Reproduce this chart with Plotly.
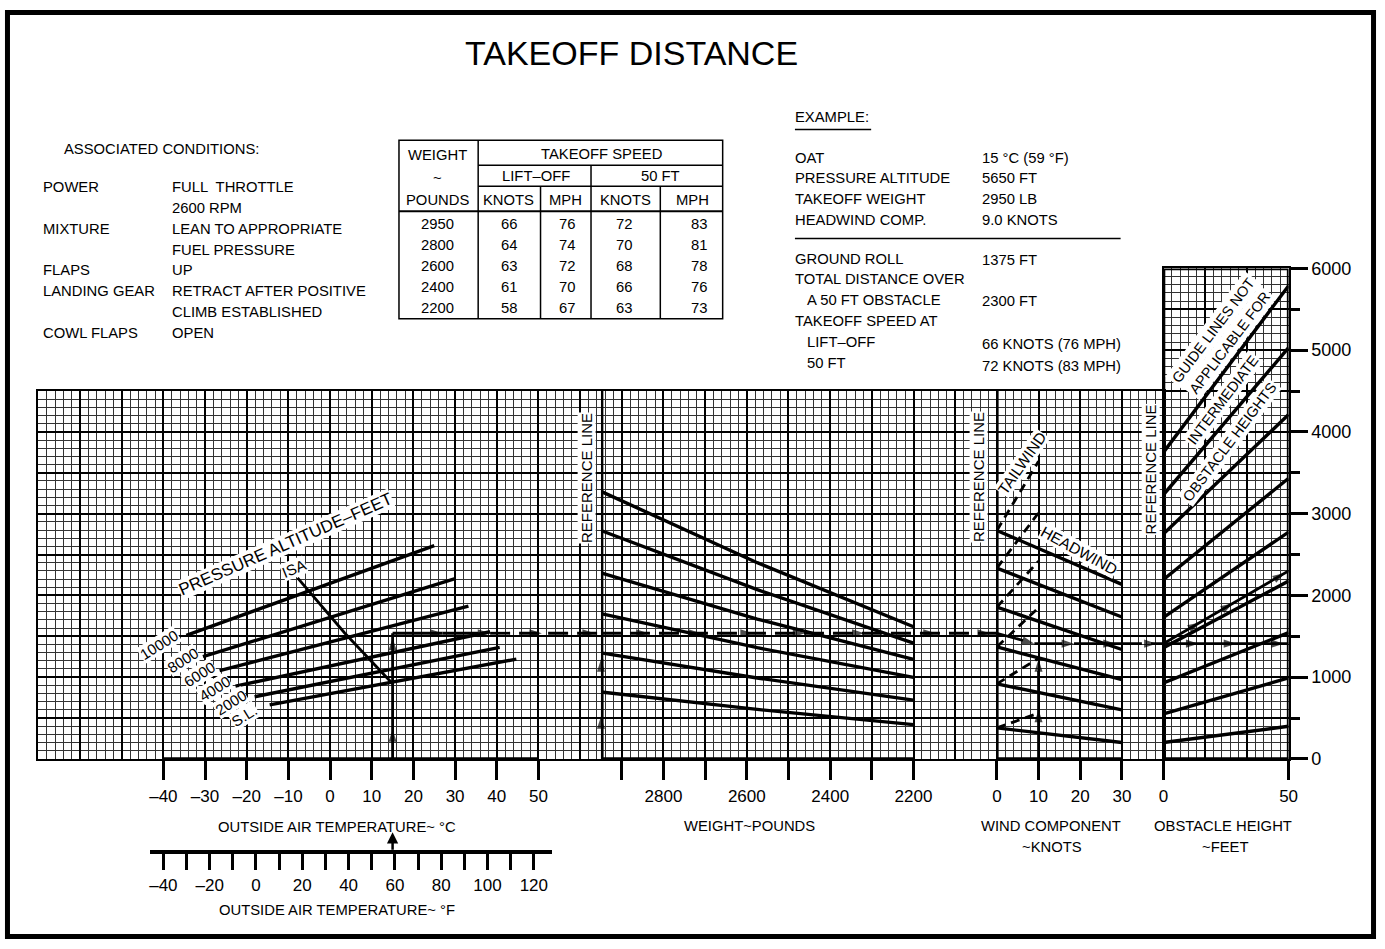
import plotly.graph_objects as go

FONT = "Liberation Sans, Arial, Helvetica, sans-serif"
W, H = 1385, 949

# ---------------- data ----------------
TEMP_C_TICKS = [-40, -30, -20, -10, 0, 10, 20, 30, 40, 50]
TEMP_C_LABELS = ["–40", "–30", "–20", "–10", "0", "10", "20", "30", "40", "50"]
TEMP_F_TICKS = [-40, -30, -20, -10, 0, 10, 20, 30, 40, 50, 60, 70, 80, 90, 100, 110, 120]
TEMP_F_LABELS = ["–40", "", "–20", "", "0", "", "20", "", "40", "", "60", "", "80", "", "100", "", "120"]
WEIGHT_TICKS = [2900, 2800, 2700, 2600, 2500, 2400, 2300, 2200]
WEIGHT_LABELS = ["", "2800", "", "2600", "", "2400", "", "2200"]
WIND_TICKS = [0, 10, 20, 30]
OBST_TICKS = [0, 50]

# pressure altitude lines (temperature degC, distance ft)
ALT_NAMES = ["10000", "8000", "6000", "4000", "2000", "S.L."]
ALT_T_START = [-34.5, -30.5, -26.5, -22.7, -18.1, -14.5]
ALT_D_START = [1510, 1250, 1080, 890, 760, 660]
ALT_T_END = [25.0, 30.0, 33.2, 38.4, 40.7, 44.7]
ALT_D_END = [2610, 2205, 1870, 1555, 1365, 1220]

ISA_T = [-7.8, 3.5, 15.0]
ISA_D = [2215, 1540, 920]

# weight guide lines (lb, ft)
WT_REF = 2950
WT_MID = 2575
WT_MIN = 2200
WT_D_START = [3273, 2794, 2275, 1776, 1297, 818]
WT_D_MID = [2400, 2070, 1710, 1360, 990, 605]
WT_D_END = [1617, 1417, 1218, 998, 719, 419]

# wind guide lines (knots, ft)
WIND_MAX = 30
TAIL_KT = 10
HW_D_START = [2794, 2334, 1856, 1369, 918, 379]
HW_D_END = [2135, 1736, 1338, 970, 599, 200]
TW_D_END = [3640, 3010, 2420, 1850, 1230, 560]

# obstacle guide lines (ft obstacle, ft distance)
OBST_MAX = 50
OB_D_START = [200, 550, 930, 1360, 1730, 2195, 2754, 3234, 3752]
OB_D_END = [399, 990, 1545, 2175, 2775, 3433, 4212, 5030, 5788]

GRID_TOP_FT = 4500
OBST_TOP_FT = 6000

# example path (value, distance, arrow flag)
EX1_T = [15, 15, 15, 15, 27, 38.4]
EX1_D = [0, 360, 1480, 1537, 1537, 1537]
EX1_A = [0, 1, 1, 0, 1, 1]
EX2_T = [38.4, 50.8, 63.5, 65]
EX2_D = [1537, 1537, 1537, 1537]
EX2_A = [0, 1, 1, 0]
EX3_W = [2950, 2836, 2710, 2586, 2460, 2318, 2147, 2017, 2000]
EX3_D = [1537, 1537, 1537, 1537, 1537, 1537, 1537, 1537, 1537]
EX3_A = [0, 1, 1, 1, 1, 1, 1, 1, 0]
EX4_KT = [0, 9, 18.5, 28.5, 30]
EX4_D = [1537, 1410, 1410, 1410, 1410]
EX4_A = [0, 1, 1, 1, 0]
EX5_KT = [30, 38.3, 40]
EX5_D = [1410, 1410, 1410]
EX5_A = [0, 1, 0]
EX6_H = [0, 13.9, 29, 48, 50]
EX6_D = [1410, 1410, 1410, 1410, 1410]
EX6_A = [0, 1, 1, 1, 0]
EX7_H = [0, 14.5, 27.7, 48.5, 50]
EX7_D = [1410, 1668, 1903, 2273, 2300]
EX7_A = [0, 1, 1, 1, 0]
TWV_KT = [10, 10, 10]
TWV_D = [0, 600, 1218]
TWV_A = [0, 1, 1]
WREF_D = [0, 519, 1218]
WREF_A = [0, 1, 1]
EX_OAT_F = 59

# table
TBL_WEIGHT = [2950, 2800, 2600, 2400, 2200]
TBL_LO_KT = [66, 64, 63, 61, 58]
TBL_LO_MPH = [76, 74, 72, 70, 67]
TBL_50_KT = [72, 70, 68, 66, 63]
TBL_50_MPH = [83, 81, 78, 76, 73]

# ---------------- layout geometry (pixels) ----------------
X0 = 33.7          # grid left edge
G = 42.1           # major grid cell (px)
Y0 = 765.0         # distance 0 ft
PX_PER_FT = 501.0 / 6000.0
TXT_DY = 0.5       # visual baseline correction for annotations


def px(x):
    return x / W


def py(y):
    return 1 - y / H


def xdom(c0, c1):
    return [px(X0 + c0 * G), px(X0 + c1 * G)]


def ydom(ft_top):
    return [py(Y0), py(Y0 - ft_top * PX_PER_FT)]


fig = go.Figure()

# background grid subplots first
fig.add_trace(go.Scatter(x=[0], y=[0], xaxis="x", yaxis="y", mode="markers",
                         marker=dict(size=0, opacity=0), hoverinfo="skip"))
fig.add_trace(go.Scatter(x=[0], y=[0], xaxis="x2", yaxis="y2", mode="markers",
                         marker=dict(size=0, opacity=0), hoverinfo="skip"))

LW = 3.4


def line(xs, ys, xa, width=LW, dash="solid"):
    fig.add_trace(go.Scatter(x=xs, y=ys, xaxis=xa, yaxis="y3", mode="lines",
                             line=dict(color="black", width=width, dash=dash),
                             hoverinfo="skip", showlegend=False))


def path(xs, ys, arrows, xa, dash="solid", width=2.8):
    fig.add_trace(go.Scatter(
        x=xs, y=ys, xaxis=xa, yaxis="y3", mode="lines+markers",
        line=dict(color="black", width=width, dash=dash),
        marker=dict(symbol="arrow", size=[13 if a else 0 for a in arrows],
                    angleref="previous", color="black", line=dict(width=0)),
        cliponaxis=False, hoverinfo="skip", showlegend=False))


# panel frames / reference lines
line([min(TEMP_C_TICKS), max(TEMP_C_TICKS)], [0, 0], "x3", width=3.5)
line([WT_REF, WT_REF], [0, GRID_TOP_FT], "x4", width=4.8)
line([WT_REF, WT_MIN], [0, 0], "x4", width=3.5)
line([0, 0], [0, GRID_TOP_FT], "x5", width=3.5)
line([0, WIND_MAX], [0, 0], "x5", width=3.5)
line([0, 0, OBST_MAX, OBST_MAX], [GRID_TOP_FT, OBST_TOP_FT, OBST_TOP_FT, 0], "x6", width=3.5)
line([0, 0], [0, GRID_TOP_FT], "x6", width=3.5)
line([0, OBST_MAX], [0, 0], "x6", width=3.5)

# pressure altitude lines
for i in range(len(ALT_NAMES)):
    line([ALT_T_START[i], ALT_T_END[i]], [ALT_D_START[i], ALT_D_END[i]], "x3")
line(ISA_T, ISA_D, "x3", width=2.8)

# weight lines
for i in range(len(WT_D_START)):
    line([WT_REF, WT_MID, WT_MIN], [WT_D_START[i], WT_D_MID[i], WT_D_END[i]], "x4")

# wind lines
for i in range(len(HW_D_START)):
    line([0, WIND_MAX], [HW_D_START[i], HW_D_END[i]], "x5")
    line([0, TAIL_KT], [HW_D_START[i], TW_D_END[i]], "x5", width=2.8, dash="9px,6px")

# obstacle lines
for i in range(len(OB_D_START)):
    line([0, OBST_MAX], [OB_D_START[i], OB_D_END[i]], "x6")

# example path
path(EX1_T, EX1_D, EX1_A, "x3")
path(EX2_T, EX2_D, EX2_A, "x3", dash="20px,9px")
path(EX3_W, EX3_D, EX3_A, "x4", dash="20px,9px")
path(EX4_KT, EX4_D, EX4_A, "x5")
path(EX5_KT, EX5_D, EX5_A, "x5", dash="20px,9px")
path(EX6_H, EX6_D, EX6_A, "x6")
path(EX7_H, EX7_D, EX7_A, "x6")
path(TWV_KT, TWV_D, TWV_A, "x5")
path([WT_REF] * 3, WREF_D, WREF_A, "x4", width=4.8)

# invisible trace on the Fahrenheit axis
fig.add_trace(go.Scatter(x=[EX_OAT_F], y=[0], xaxis="x7", yaxis="y3", mode="markers",
                         marker=dict(size=0, opacity=0), hoverinfo="skip"))


def grid_axis(domain, rng, dtick, mdtick, anchor):
    return dict(domain=domain, range=rng, anchor=anchor, tickmode="linear", tick0=0, dtick=dtick,
                showgrid=True, gridcolor="#000", gridwidth=1.9,
                minor=dict(tick0=0, dtick=mdtick, showgrid=True, gridcolor="#333", gridwidth=1.1),
                showticklabels=False, ticks="", zeroline=False, showline=True,
                linecolor="black", linewidth=1.8, mirror=True, fixedrange=True)


TICKFONT = dict(family=FONT, size=17, color="black")


def panel_x(domain, rng, tickvals, ticktext):
    return dict(domain=domain, range=rng, anchor="y3", tickmode="array", tickvals=tickvals,
                ticktext=ticktext, ticks="outside", ticklen=20, tickwidth=3, tickcolor="black",
                ticklabelstandoff=2,
                showgrid=False, zeroline=False, showline=False, tickfont=TICKFONT,
                fixedrange=True)


# Fahrenheit axis range from pixel extent
F_PX0, F_PX1 = 146.7, 552.7
C_PX_M40 = X0 + 3 * G


def f_at(pxv):
    return ((pxv - C_PX_M40) / (G / 10) - 40) * 1.8 + 32


fig.update_layout(
    width=W, height=H, margin=dict(l=0, r=0, t=0, b=0),
    paper_bgcolor="white", plot_bgcolor="rgba(0,0,0,0)", showlegend=False,
    font=dict(family=FONT, color="black"),
    xaxis=grid_axis(xdom(0, 27), [0, 27], 1, 0.2, "y"),
    yaxis=grid_axis(ydom(GRID_TOP_FT), [0, GRID_TOP_FT], 500, 100, "x"),
    xaxis2=grid_axis(xdom(27, 30), [0, 3], 1, 0.2, "y2"),
    yaxis2=grid_axis(ydom(OBST_TOP_FT), [0, OBST_TOP_FT], 500, 100, "x2"),
    xaxis3=panel_x(xdom(0, 13.5), [-70, 65], TEMP_C_TICKS, TEMP_C_LABELS),
    xaxis4=panel_x(xdom(13.5, 23), [2950, 2000], WEIGHT_TICKS, WEIGHT_LABELS),
    xaxis5=panel_x(xdom(23, 27), [0, 40], WIND_TICKS, [str(v) for v in WIND_TICKS]),
    xaxis6=panel_x(xdom(27, 30), [0, 50], OBST_TICKS, [str(v) for v in OBST_TICKS]),
    xaxis7=dict(domain=[px(F_PX0), px(F_PX1)], range=[f_at(F_PX0), f_at(F_PX1)],
                anchor="free", position=py(860), tickmode="array", tickvals=TEMP_F_TICKS,
                ticktext=TEMP_F_LABELS, ticks="outside", ticklen=16, tickwidth=3,
                ticklabelstandoff=1,
                tickcolor="black", showline=True, linewidth=3.5, linecolor="black",
                showgrid=False, zeroline=False, tickfont=TICKFONT, fixedrange=True),
    yaxis3=dict(domain=ydom(OBST_TOP_FT), range=[0, OBST_TOP_FT], anchor="x6", side="right",
                tickmode="linear", tick0=0, dtick=1000, ticks="outside", ticklen=18,
                tickwidth=3, tickcolor="black",
                minor=dict(tick0=0, dtick=500, ticks="outside", ticklen=10, tickwidth=3,
                           tickcolor="black", showgrid=False),
                showgrid=False, zeroline=False, showline=False,
                tickfont=dict(family=FONT, size=18, color="black"), fixedrange=True),
)

ann = []


def T(text, x, y, size=14.8, xanchor="center", angle=0, bg=False, dy=TXT_DY, pad=0):
    d = dict(text=text, x=px(x), y=py(y - dy), xref="paper", yref="paper", showarrow=False,
             font=dict(family=FONT, size=size, color="black"), xanchor=xanchor,
             yanchor="middle", textangle=angle)
    if bg:
        d["bgcolor"] = "white"
        d["borderpad"] = pad
    ann.append(d)


T("TAKEOFF DISTANCE", 633, 47, size=34, dy=3)

# associated conditions
T("ASSOCIATED CONDITIONS:", 58, 142, xanchor="left")
for txt, y in [("POWER", 181.5), ("MIXTURE", 224.5), ("FLAPS", 266.5), ("LANDING GEAR", 288),
               ("COWL FLAPS", 330)]:
    T(txt, 36, y, xanchor="left")
for txt, y in [("FULL  THROTTLE", 181.5), ("2600 RPM", 203), ("LEAN TO APPROPRIATE", 224.5),
               ("FUEL PRESSURE", 245.5), ("UP", 266.5), ("RETRACT AFTER POSITIVE", 288),
               ("CLIMB ESTABLISHED", 309.5), ("OPEN", 330)]:
    T(txt, 167, y, xanchor="left")

# table text
TS = 14.8
T("WEIGHT", 437, 149, size=TS)
T("~", 437, 172, size=TS)
T("POUNDS", 437, 195, size=TS)
T("TAKEOFF SPEED", 603, 148, size=TS)
T("LIFT–OFF", 536, 170, size=TS)
T("50 FT", 662, 170, size=TS)
T("KNOTS", 509, 195, size=TS)
T("MPH", 566, 195, size=TS)
T("KNOTS", 627, 195, size=TS)
T("MPH", 695, 195, size=TS)
ROW_Y = [219, 240.5, 262, 283.5, 305]
for i in range(len(TBL_WEIGHT)):
    T(str(TBL_WEIGHT[i]), 437, ROW_Y[i], size=TS)
    T(str(TBL_LO_KT[i]), 509, ROW_Y[i], size=TS)
    T(str(TBL_LO_MPH[i]), 568, ROW_Y[i], size=TS)
    T(str(TBL_50_KT[i]), 625, ROW_Y[i], size=TS)
    T(str(TBL_50_MPH[i]), 701, ROW_Y[i], size=TS)

# example block
T("EXAMPLE:", 796, 110, xanchor="left")
for txt, x, y in [("OAT", 796, 151.5), ("PRESSURE ALTITUDE", 796, 172.5), ("TAKEOFF WEIGHT", 796, 194),
                  ("HEADWIND COMP.", 796, 215.5), ("GROUND ROLL", 796, 255),
                  ("TOTAL DISTANCE OVER", 796, 275.5), ("A 50 FT OBSTACLE", 808, 297),
                  ("TAKEOFF SPEED AT", 796, 318), ("LIFT–OFF", 808, 339.5), ("50 FT", 808, 361)]:
    T(txt, x, y, xanchor="left")
for txt, y in [("15 °C (59 °F)", 152), ("5650 FT", 172.5), ("2950 LB", 194), ("9.0 KNOTS", 215.5),
               ("1375 FT", 256), ("2300 FT", 298), ("66 KNOTS (76 MPH)", 342),
               ("72 KNOTS (83 MPH)", 364)]:
    T(txt, 985, y, xanchor="left")

# chart labels (rotated, centred)
T("REFERENCE LINE", 588, 478, size=15, angle=-90, bg=True, dy=0)
T("REFERENCE LINE", 984, 477, size=15, angle=-90, bg=True, dy=0)
T("REFERENCE LINE", 1157, 469, size=15, angle=-90, bg=True, dy=0)
T("PRESSURE ALTITUDE–FEET", 283, 546, size=17, angle=-23.7, bg=True, dy=0)
T("ISA", 292, 571, size=15, angle=-22, bg=True, dy=0)
for name, (x, y) in zip(ALT_NAMES, [(156, 648), (179, 664), (196, 679), (212, 693), (228, 707),
                                    (242, 721)]):
    T(name, x, y, size=15, angle=-32, bg=True, dy=0)
T("TAILWIND", 1027, 463, size=15.5, angle=-55, bg=True, dy=0)
T("HEADWIND", 1085, 552, size=15.5, angle=28.5, bg=True, dy=0)
T("GUIDE LINES NOT", 1221, 327, size=14.5, angle=-53, bg=True, dy=0, pad=2)
T("APPLICABLE FOR", 1237, 340, size=14.5, angle=-53, bg=True, dy=0, pad=2)
T("INTERMEDIATE", 1230, 398, size=14.5, angle=-53, bg=True, dy=0, pad=1)
T("OBSTACLE HEIGHTS", 1237, 441, size=14.5, angle=-53, bg=True, dy=0, pad=1)

T("OUTSIDE AIR TEMPERATURE~ °C", 335, 835)
T("OUTSIDE AIR TEMPERATURE~ °F", 335, 920)
T("WEIGHT~POUNDS", 752, 834)
T("WIND COMPONENT", 1057, 834)
T("~KNOTS", 1058, 856)
T("OBSTACLE HEIGHT", 1230, 834)
T("~FEET", 1232, 856)

# F -> C link arrow
ann.append(dict(text="", x=EX_OAT_F, y=py(840), xref="x7", yref="paper", showarrow=True,
                ax=0, ay=19, arrowhead=2, arrowsize=0.9, arrowwidth=2.5, arrowcolor="black"))

fig.update_layout(annotations=ann)

# shapes: table lines, example lines, frame
shapes = []


def L(x0, y0, x1, y1, w=1.5):
    shapes.append(dict(type="line", xref="paper", yref="paper", x0=px(x0), y0=py(y0),
                       x1=px(x1), y1=py(y1), line=dict(color="black", width=w)))


shapes.append(dict(type="rect", xref="paper", yref="paper", x0=px(398), y0=py(133), x1=px(725),
                   y1=py(315.5), line=dict(color="black", width=1.5)))
L(478, 158.5, 725, 158.5)
L(478, 180, 725, 180)
L(398, 205.5, 725, 205.5, 2)
L(478, 133, 478, 315.5)
L(592, 158.5, 592, 315.5)
L(541, 180, 541, 315.5)
L(662, 180, 662, 315.5)
L(798, 122, 875, 122, 1.5)
L(798, 233.5, 1127, 233.5, 1.5)
# outer frame, kept inside the page
shapes.append(dict(type="rect", xref="paper", yref="paper", x0=px(2.5), y0=py(946.5),
                   x1=px(1382.5), y1=py(2.5), line=dict(color="black", width=5)))
fig.update_layout(shapes=shapes)

POST = (
    "var de=document.documentElement,b=document.body;"
    "de.style.margin='0';de.style.padding='0';de.style.overflow='hidden';"
    "b.style.margin='0';b.style.padding='0';b.style.overflow='hidden';"
)

fig.write_html("out.html", config={"displayModeBar": False}, post_script=POST)
